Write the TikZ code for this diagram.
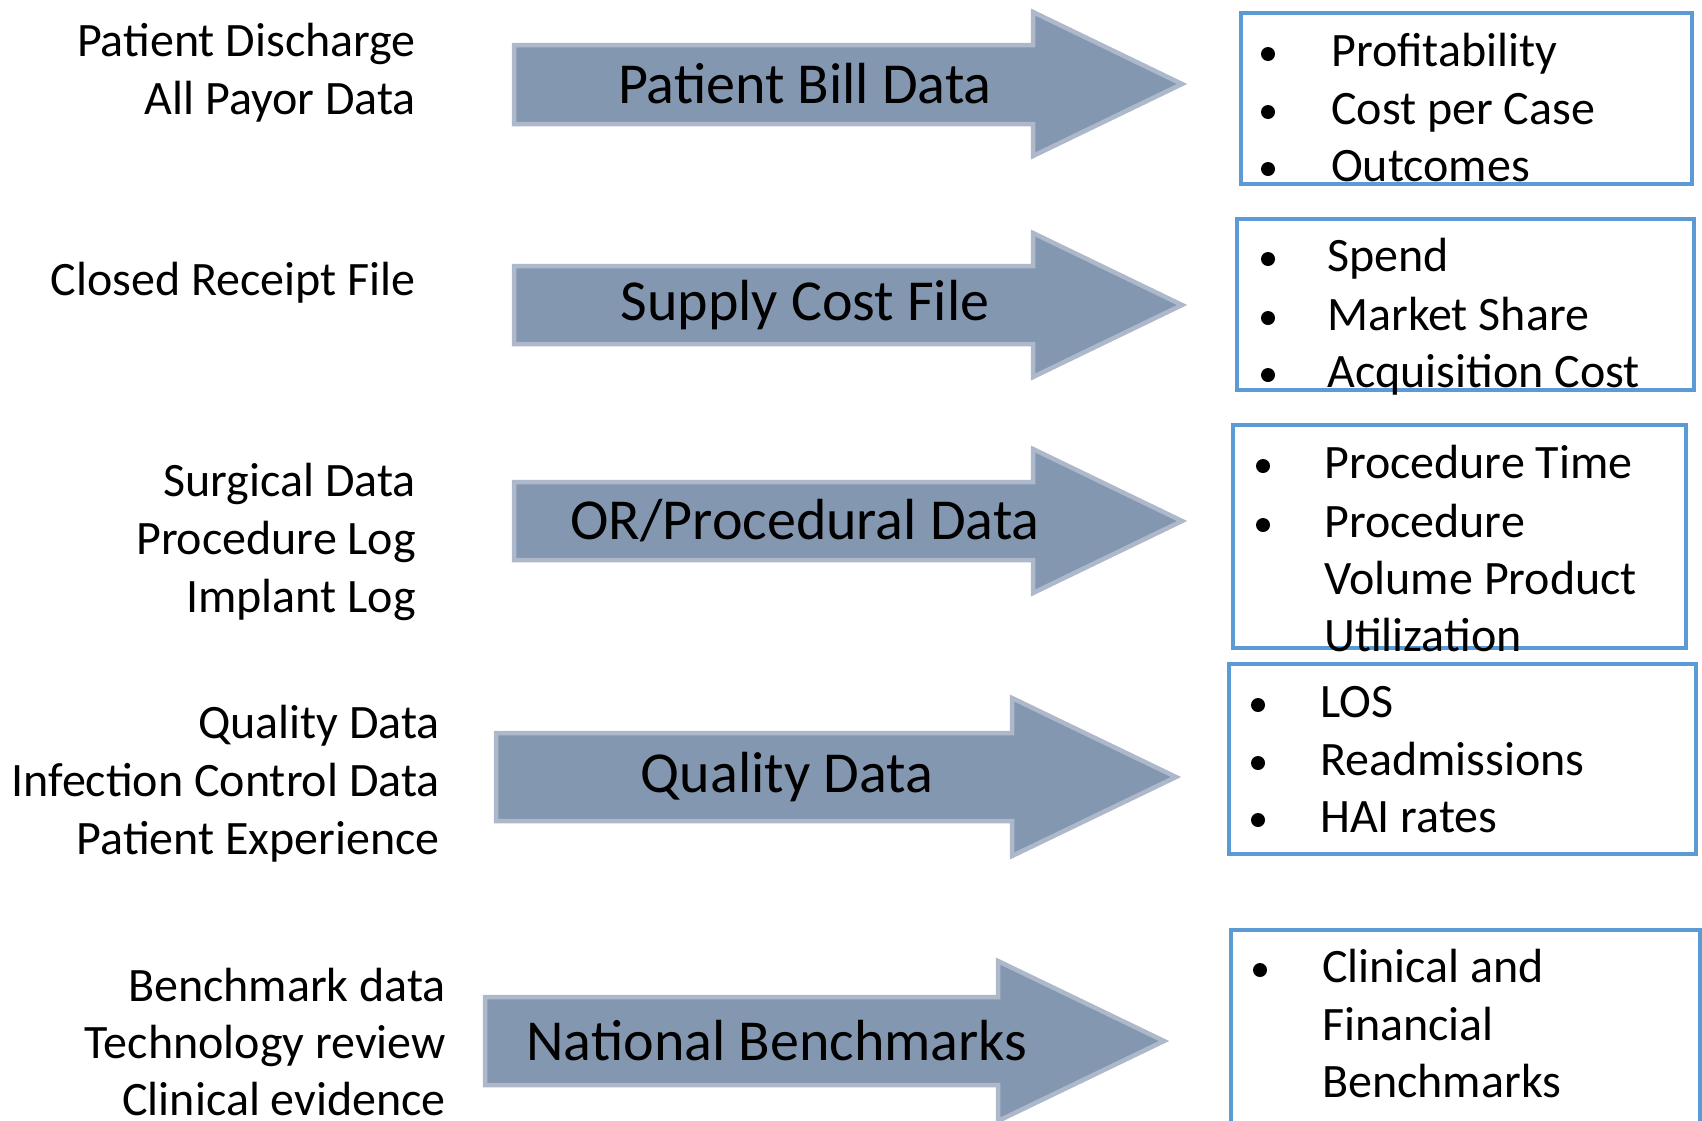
\documentclass[tikz,border=0pt]{standalone}
\usepackage{fontspec}
\setmainfont{Carlito}
\definecolor{arrowfill}{HTML}{8497B0}
\definecolor{arrowedge}{HTML}{ADB9CA}
\definecolor{boxedge}{HTML}{5B9BD5}
\begin{document}
\begin{tikzpicture}[x=1pt,y=-1pt,
  srctext/.style={anchor=mid east, inner sep=0pt, yshift=-13pt, font=\fontsize{48}{57.5}\selectfont},
  itemtext/.style={anchor=mid west, inner sep=0pt, yshift=-13pt, font=\fontsize{48}{57.5}\selectfont},
  bulletmark/.style={circle, fill=black, inner sep=0pt, minimum size=14pt, yshift=-3pt},
  flowarrow/.style={fill=arrowfill, draw=arrowedge, line width=4.5pt, line join=miter},
  arrowlabel/.style={inner sep=0pt, font=\fontsize{58}{68}\selectfont},
  outbox/.style={draw=boxedge, line width=4pt}]
\useasboundingbox (0,0) rectangle (1702,1120);

% ---- source lists ----
\node[srctext] (s1a) at (416,41) {Patient Discharge};
\node[srctext] (s1b) at (416,99) {All Payor Data};
\node[srctext] (s2a) at (416,280) {Closed Receipt File};
\node[srctext] (s3a) at (416,481) {Surgical Data};
\node[srctext] (s3b) at (416,539) {Procedure Log};
\node[srctext] (s3c) at (416,597) {Implant Log};
\node[srctext] (s4a) at (440,723) {Quality Data};
\node[srctext] (s4b) at (440,781) {Infection Control Data};
\node[srctext] (s4c) at (440,839) {Patient Experience};
\node[srctext] (s5a) at (446,986) {Benchmark data};
\node[srctext] (s5b) at (446,1043) {Technology review};
\node[srctext] (s5c) at (446,1100) {Clinical evidence};

% ---- block arrows ----
\draw[flowarrow] (514,45) -- (1033,45) -- (1033,12) -- (1182,84) -- (1033,156) -- (1033,124) -- (514,124) -- cycle;
\node[arrowlabel] (a1) at (805,84) {Patient Bill Data};

\draw[flowarrow] (514,266) -- (1033,266) -- (1033,233) -- (1182,305) -- (1033,377) -- (1033,344) -- (514,344) -- cycle;
\node[arrowlabel] (a2) at (805,305) {Supply Cost File};

\draw[flowarrow] (514,482) -- (1033,482) -- (1033,449) -- (1182,521) -- (1033,593) -- (1033,560) -- (514,560) -- cycle;
\node[arrowlabel] (a3) at (805,521) {OR/Procedural Data};

\draw[flowarrow] (496,733) -- (1012,733) -- (1012,698) -- (1176,777) -- (1012,856) -- (1012,821) -- (496,821) -- cycle;
\node[arrowlabel] (a4) at (787,777) {Quality Data};

\draw[flowarrow] (485,997) -- (998,997) -- (998,961) -- (1164,1041) -- (998,1121) -- (998,1085) -- (485,1085) -- cycle;
\node[arrowlabel] (a5) at (777,1041) {National Benchmarks};

% ---- outcome boxes ----
\draw[outbox] (1241,13) rectangle (1692,184);
\node[bulletmark] (b1a) at (1268,51) {};
\node[itemtext] (t1a) at (1331,51) {Profitability};
\node[bulletmark] (b1b) at (1268,109) {};
\node[itemtext] (t1b) at (1331,109) {Cost per Case};
\node[bulletmark] (b1c) at (1268,166) {};
\node[itemtext] (t1c) at (1331,166) {Outcomes};

\draw[outbox] (1237,219) rectangle (1694,390);
\node[bulletmark] (b2a) at (1268,256) {};
\node[itemtext] (t2a) at (1327,256) {Spend};
\node[bulletmark] (b2b) at (1268,315) {};
\node[itemtext] (t2b) at (1327,315) {Market Share};
\node[bulletmark] (b2c) at (1268,372) {};
\node[itemtext] (t2c) at (1327,372) {Acquisition Cost};

\draw[outbox] (1233,425) rectangle (1686,648);
\node[bulletmark] (b3a) at (1263,463) {};
\node[itemtext] (t3a) at (1324,463) {Procedure Time};
\node[bulletmark] (b3b) at (1263,522) {};
\node[itemtext] (t3b) at (1324,522) {Procedure};
\node[itemtext] (t3c) at (1324,579) {Volume Product};
\node[itemtext] (t3d) at (1324,636) {Utilization};

\draw[outbox] (1229,664) rectangle (1696,854);
\node[bulletmark] (b4a) at (1258,702) {};
\node[itemtext] (t4a) at (1320,702) {LOS};
\node[bulletmark] (b4b) at (1258,760) {};
\node[itemtext] (t4b) at (1320,760) {Readmissions};
\node[bulletmark] (b4c) at (1258,817) {};
\node[itemtext] (t4c) at (1320,817) {HAI rates};

\draw[outbox] (1231,930) rectangle (1700,1126);
\node[bulletmark] (b5a) at (1260,967) {};
\node[itemtext] (t5a) at (1322,967) {Clinical and};
\node[itemtext] (t5b) at (1322,1025) {Financial};
\node[itemtext] (t5c) at (1322,1082) {Benchmarks};
\end{tikzpicture}
\end{document}
